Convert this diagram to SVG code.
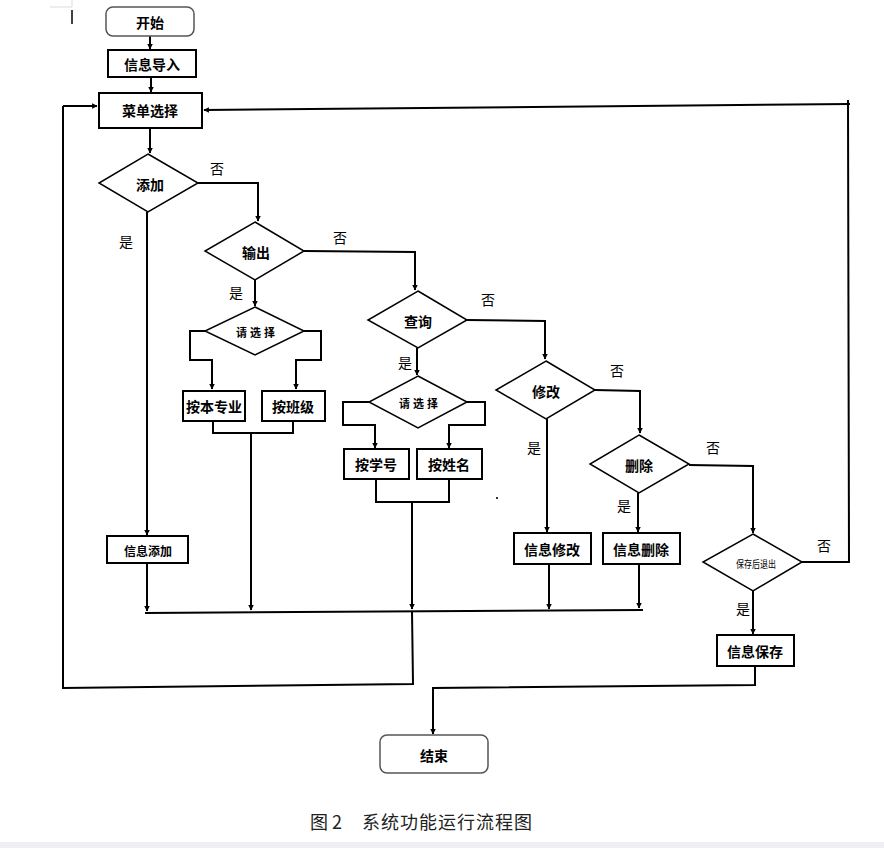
<svg xmlns="http://www.w3.org/2000/svg" width="884" height="848" viewBox="0 0 884 848">
<defs>
<marker id="ah" viewBox="0 0 10 10" refX="9" refY="5" markerWidth="5.5" markerHeight="5.5" orient="auto" markerUnits="userSpaceOnUse">
<path d="M0,0 L10,5 L0,10 z" fill="#000"/>
</marker>
<style>
.box{fill:#fff;stroke:#000;stroke-width:2}
.rbox{fill:#fff;stroke:#555;stroke-width:1.5}
.dia{fill:#fff;stroke:#000;stroke-width:1.5}
.ln{fill:none;stroke:#000;stroke-width:2}
.ar{fill:none;stroke:#000;stroke-width:2;marker-end:url(#ah)}
.t{font-family:"Noto Sans CJK SC","Liberation Sans",sans-serif;font-size:14px;font-weight:700;text-anchor:middle;dominant-baseline:central;fill:#000}
.ts{font-family:"Noto Sans CJK SC","Liberation Sans",sans-serif;font-size:11px;font-weight:700;text-anchor:middle;dominant-baseline:central;fill:#000;letter-spacing:3px}
.lb{font-family:"Noto Sans CJK SC","Liberation Sans",sans-serif;font-size:14px;text-anchor:middle;dominant-baseline:central;fill:#000}
.cap{font-family:"Noto Sans CJK SC","Liberation Serif",serif;font-size:18px;font-weight:400;fill:#222}
</style>
</defs>
<rect x="0" y="0" width="884" height="848" fill="#fff"/>
<rect x="0" y="842" width="884" height="6" fill="#eef0f3"/>
<path d="M50,7 H72 V0" fill="none" stroke="#ddd" stroke-width="1"/>
<line x1="72" y1="10" x2="72" y2="24" stroke="#000" stroke-width="1.5"/>
<rect x="496" y="497" width="2" height="2" fill="#333"/>

<g id="connectors">
<line class="ar" x1="150" y1="36" x2="150" y2="49"/>
<line class="ar" x1="151" y1="77" x2="151" y2="92"/>
<line class="ar" x1="150" y1="128" x2="150" y2="153"/>
<polyline class="ar" points="198,183 258,183 258,221"/>
<line class="ar" x1="147" y1="212" x2="147" y2="535"/>
<line class="ar" x1="147" y1="563" x2="147" y2="611"/>
<polyline class="ln" points="145,613 643,610"/>
<polyline class="ar" points="304,251 415,252 415,290"/>
<line class="ar" x1="255" y1="280" x2="255" y2="306"/>
<polyline class="ar" points="205,331 190,331 190,360 212,360 212,389"/>
<polyline class="ar" points="304,331 321,331 321,360 296,360 296,389"/>
<polyline class="ln" points="213,421 213,433 293,433 293,421"/>
<line class="ar" x1="251" y1="433" x2="251" y2="610"/>
<polyline class="ar" points="467,320 545,321 545,359"/>
<line class="ar" x1="417" y1="348" x2="417" y2="375"/>
<polyline class="ar" points="369,402 343,402 343,425 375,425 375,448"/>
<polyline class="ar" points="467,402 485,402 485,425 449,425 449,448"/>
<polyline class="ln" points="376,479 376,502 449,502 449,479"/>
<line class="ar" x1="412" y1="502" x2="412" y2="609"/>
<polyline class="ln" points="412,611 413,684 63,688 63,106"/>
<line class="ar" x1="63" y1="106" x2="97" y2="106"/>
<polyline class="ar" points="595,390 640,391 640,433"/>
<line class="ar" x1="547" y1="419" x2="547" y2="532"/>
<line class="ar" x1="549" y1="564" x2="549" y2="609"/>
<polyline class="ar" points="689,465 753,466 753,533"/>
<line class="ar" x1="638" y1="493" x2="638" y2="532"/>
<line class="ar" x1="639" y1="564" x2="639" y2="608"/>
<polyline class="ln" points="802,562 849,562 848,100"/>
<line class="ar" x1="850" y1="104" x2="204" y2="110"/>
<line class="ar" x1="753" y1="591" x2="753" y2="634"/>
<polyline class="ar" points="755,666 755,685 433,688 433,734"/>
</g>

<g id="start"><rect class="rbox" x="106" y="7" width="88" height="29" rx="7"/><text class="t" x="150" y="22">开始</text></g>
<g id="import"><rect class="box" x="108" y="50" width="88" height="27"/><text class="t" x="152" y="64">信息导入</text></g>
<g id="menu"><rect class="box" x="99" y="93" width="103" height="35"/><text class="t" x="150" y="110">菜单选择</text></g>
<g id="add"><polygon class="dia" points="148,154 198,183 148,212 99,183"/><text class="t" x="150" y="184">添加</text></g>
<g id="output"><polygon class="dia" points="255,222 304,251 255,280 205,251"/><text class="t" x="256" y="252">输出</text></g>
<g id="choose1"><polygon class="dia" points="255,307 304,331 255,355 205,331"/><text class="ts" x="257" y="332">请选择</text></g>
<g id="bymajor"><rect class="box" x="183" y="391" width="62" height="30"/><text class="t" x="214" y="406">按本专业</text></g>
<g id="byclass"><rect class="box" x="262" y="391" width="63" height="30"/><text class="t" x="293" y="406">按班级</text></g>
<g id="query"><polygon class="dia" points="418,291 467,320 418,348 368,320"/><text class="t" x="418" y="321">查询</text></g>
<g id="choose2"><polygon class="dia" points="418,376 467,402 418,428 369,402"/><text class="ts" x="420" y="403">请选择</text></g>
<g id="byid"><rect class="box" x="344" y="449" width="65" height="30"/><text class="t" x="376" y="464">按学号</text></g>
<g id="byname"><rect class="box" x="417" y="449" width="65" height="30"/><text class="t" x="449" y="464">按姓名</text></g>
<g id="addinfo"><rect class="box" x="107" y="536" width="81" height="27"/><text class="t" x="148" y="550" style="font-size:12px">信息添加</text></g>
<g id="modify"><polygon class="dia" points="546,361 595,390 546,419 496,390"/><text class="t" x="546" y="391">修改</text></g>
<g id="modinfo"><rect class="box" x="514" y="533" width="77" height="31"/><text class="t" x="552" y="549">信息修改</text></g>
<g id="delete"><polygon class="dia" points="639,435 689,464 639,493 590,464"/><text class="t" x="639" y="465">删除</text></g>
<g id="delinfo"><rect class="box" x="603" y="533" width="77" height="31"/><text class="t" x="641" y="549">信息删除</text></g>
<g id="saveexit"><polygon class="dia" points="753,534 802,562 753,591 703,562"/><text class="t" x="756" y="563" style="font-size:10px;font-weight:400" textLength="40" lengthAdjust="spacingAndGlyphs">保存后退出</text></g>
<g id="save"><rect class="box" x="717" y="635" width="77" height="31"/><text class="t" x="755" y="651">信息保存</text></g>
<g id="end"><rect class="rbox" x="380" y="735" width="108" height="38" rx="7"/><text class="t" x="434" y="755">结束</text></g>

<g id="labels">
<text class="lb" x="217" y="168">否</text>
<text class="lb" x="126" y="241">是</text>
<text class="lb" x="340" y="237">否</text>
<text class="lb" x="236" y="292">是</text>
<text class="lb" x="488" y="299">否</text>
<text class="lb" x="405" y="362">是</text>
<text class="lb" x="617" y="370">否</text>
<text class="lb" x="534" y="447">是</text>
<text class="lb" x="713" y="447">否</text>
<text class="lb" x="624" y="505">是</text>
<text class="lb" x="824" y="545">否</text>
<text class="lb" x="743" y="608">是</text>
</g>
<text class="cap" x="310" y="829">图 2</text>
<text class="cap" x="362" y="829" letter-spacing="1">系统功能运行流程图</text>
</svg>
